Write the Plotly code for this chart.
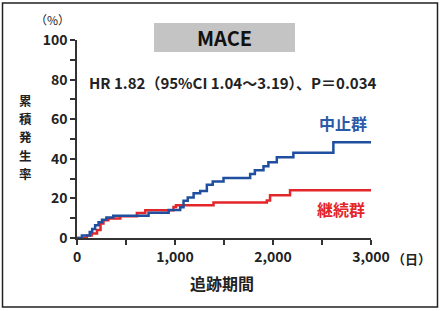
import plotly.graph_objects as go

# ---- data ----
blue_days = [0, 50, 130, 155, 185, 220, 255, 300, 370, 730, 935, 1053, 1087, 1130, 1190, 1257,
             1325, 1385, 1495, 1767, 1815, 1903, 1953, 2039, 2208, 2616, 3000]
blue_pct = [0, 1.2, 3.0, 4.5, 6.5, 8.0, 9.2, 10.3, 11.3, 12.8, 14.2, 15.5, 18.8, 20.5, 22.6, 23.8,
            26.9, 28.5, 30.3, 32.3, 34.2, 36.3, 38.3, 40.8, 43.0, 48.4, 48.4]
red_days = [0, 100, 150, 204, 240, 270, 320, 442, 611, 697, 985, 1010, 1393, 1937, 1970, 2174, 3000]
red_pct = [0, 1.3, 2.3, 4.0, 7.3, 9.0, 9.8, 11.0, 12.6, 14.0, 15.7, 16.5, 17.9, 19.0, 21.6, 24.1, 24.1]

x_tickvals = [0, 1000, 2000, 3000]
x_ticktext = ["0", "1,000", "2,000", "3,000"]
y_tickvals = [0, 20, 40, 60, 80, 100]

blue_name = "中止群"
red_name = "継続群"
title_text = "MACE"
stat_text = "HR 1.82（95%CI 1.04～3.19）、P＝0.034"
y_title = "累積発生率"
x_title = "追跡期間"

BLUE = "#1f4f9e"
RED = "#e3262a"
FONT = "Noto Sans CJK JP"
AX = "#333333"

fig = go.Figure()
fig.add_trace(go.Scatter(x=red_days, y=red_pct, mode="lines", line=dict(color=RED, width=2.5, shape="hv"),
                         name=red_name, showlegend=False, cliponaxis=False))
fig.add_trace(go.Scatter(x=blue_days, y=blue_pct, mode="lines", line=dict(color=BLUE, width=2.5, shape="hv"),
                         name=blue_name, showlegend=False, cliponaxis=False))

L, R, T, B = 77, 69, 40, 73
W, H = 440, 311
pw, ph = W - L - R, H - T - B

def px(x):
    return (x - L) / pw

def py(y):
    return (H - B - y) / ph

fig.update_layout(
    width=W, height=H,
    margin=dict(l=L, r=R, t=T, b=B),
    paper_bgcolor="white", plot_bgcolor="white",
    font=dict(family=FONT, color="#222222"),
    xaxis=dict(range=[0, 3000], showgrid=False, zeroline=False, showline=True, linecolor=AX, linewidth=1.5,
               ticks="outside", ticklen=5, tickwidth=1.5, tickcolor=AX,
               tickvals=x_tickvals, ticktext=x_ticktext,
               tickfont=dict(size=14, family=FONT, weight="bold", color="#222222"),
               minor=dict(dtick=500, ticks="outside", ticklen=5, tickwidth=1.5, tickcolor=AX)),
    yaxis=dict(range=[0, 100], showgrid=False, zeroline=False, showline=True, linecolor=AX, linewidth=1.5,
               ticks="outside", ticklen=5, tickwidth=1.5, tickcolor=AX,
               tickvals=y_tickvals,
               tickfont=dict(size=14, family=FONT, weight="bold", color="#222222"),
               minor=dict(dtick=10, ticks="outside", ticklen=5, tickwidth=1.5, tickcolor=AX)),
)

# outer border
fig.add_shape(type="rect", xref="paper", yref="paper", x0=px(2.5), x1=px(437.5), y0=py(307), y1=py(3),
              line=dict(color="#222222", width=1.5), fillcolor="rgba(0,0,0,0)", layer="below")
# MACE box
fig.add_shape(type="rect", xref="paper", yref="paper", x0=px(154), x1=px(295), y0=py(52), y1=py(23),
              line=dict(color="#c4c4c4", width=0), fillcolor="#c4c4c4")

ann = [
    dict(x=px(224.5), y=py(38), text=f"<b>{title_text}</b>", size=20, color="#111111"),
    dict(x=px(233), y=py(82), text=stat_text, size=15, color="#222222", weight=600),
    dict(x=px(343), y=py(123), text=f"<b>{blue_name}</b>", size=16, color="#2a5aa8"),
    dict(x=px(341), y=py(209), text=f"<b>{red_name}</b>", size=16, color=RED),
    dict(x=px(52), y=py(19), text="（%）", size=12, color="#222222"),
    dict(x=px(411), y=py(258), text="（日）", size=13, color="#222222", weight=600),
    dict(x=px(222), y=py(283), text=f"<b>{x_title}</b>", size=16, color="#222222"),
]
for i, c in enumerate(y_title):
    ann.append(dict(x=px(25), y=py(100 + 18.4 * i), text=f"<b>{c}</b>", size=12.5, color="#222222"))

for a in ann:
    fig.add_annotation(x=a["x"], y=a["y"], xref="paper", yref="paper", text=a["text"], showarrow=False,
                       xanchor="center", yanchor="middle", borderpad=0,
                       font=dict(size=a["size"], color=a["color"], family=FONT, weight=a.get("weight", "normal")))

fig.write_html("out.html")
